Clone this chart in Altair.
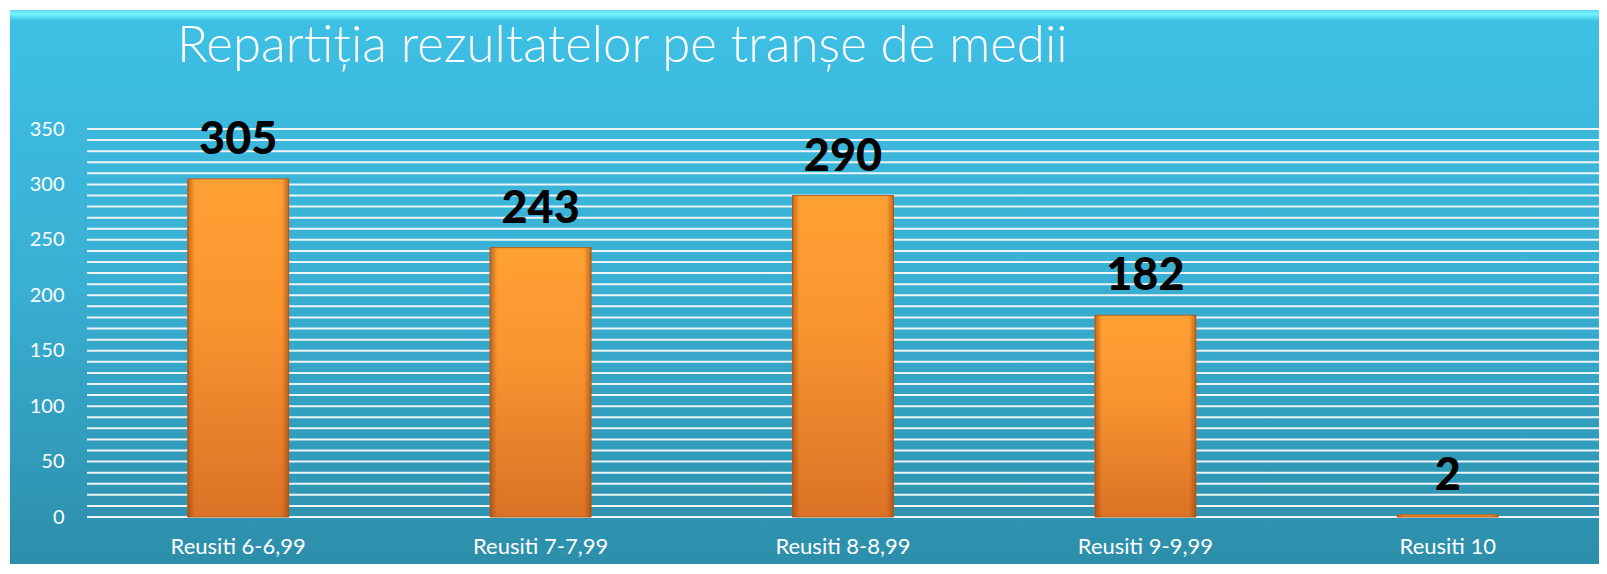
import altair as alt
import pandas as pd

categories = ["Reusiti 6-6,99", "Reusiti 7-7,99", "Reusiti 8-8,99", "Reusiti 9-9,99", "Reusiti 10"]
values = [305, 243, 290, 182, 2]
y_ticks = list(range(0, 360, 10))
title_text = "Repartiția rezultatelor pe tranșe de medii"

df = pd.DataFrame({"cat": categories, "value": values})
grid_df = pd.DataFrame({"v": y_ticks})
one = pd.DataFrame({"a": [0]})

W, H = 1512, 388
FONT = "Lato"

y_axis = alt.Axis(
    values=y_ticks,
    labelExpr="datum.value % 50 === 0 ? datum.label : ''",
    grid=False, domain=False, ticks=False, zindex=1,
    labelPadding=23, labelFontSize=20, labelColor="white", labelFont=FONT,
    title=None,
)
y_scale = alt.Scale(domain=[0, 350], nice=False, zero=True)

x_enc = alt.X(
    "cat:N", sort=categories,
    scale=alt.Scale(paddingInner=0.666, paddingOuter=0.333),
    axis=alt.Axis(domain=False, ticks=False, labelPadding=19, labelFontSize=22, zindex=1,
                  labelColor="white", labelFont=FONT, labelAngle=0, title=None),
)

bg_grad = alt.Gradient(
    gradient="linear", x1=0, x2=0, y1=0, y2=1,
    stops=[alt.GradientStop(color="#3EC0E5", offset=0),
           alt.GradientStop(color="#39AFD3", offset=0.5),
           alt.GradientStop(color="#2C8EAA", offset=1)],
)
bg = alt.Chart(one).mark_rect(fill=bg_grad, clip=False).encode(
    x=alt.value(-77), x2=alt.value(1512), y=alt.value(-119), y2=alt.value(435)
)
top_grad = alt.Gradient(
    gradient="linear", x1=0, x2=0, y1=0, y2=1,
    stops=[alt.GradientStop(color="#5CD6F0", offset=0),
           alt.GradientStop(color="#74F4FF", offset=0.35),
           alt.GradientStop(color="#3EC0E5", offset=1)],
)
top_strip = alt.Chart(one).mark_rect(fill=top_grad, clip=False).encode(
    x=alt.value(-77), x2=alt.value(1512), y=alt.value(-119), y2=alt.value(-108)
)

grid = alt.Chart(grid_df).mark_rule(color="#EEF3F5", strokeWidth=2).encode(
    y=alt.Y("v:Q", scale=y_scale, axis=y_axis)
)

bar_grad = alt.Gradient(
    gradient="linear", x1=0, x2=0, y1=0, y2=1,
    stops=[alt.GradientStop(color="#FFA033", offset=0),
           alt.GradientStop(color="#FA9530", offset=0.4),
           alt.GradientStop(color="#DB7226", offset=1)],
)
edge_grad = alt.Gradient(
    gradient="linear", x1=0, x2=1, y1=0, y2=0,
    stops=[alt.GradientStop(color="rgba(140,60,10,0.55)", offset=0),
           alt.GradientStop(color="rgba(140,60,10,0)", offset=0.07),
           alt.GradientStop(color="rgba(140,60,10,0)", offset=0.93),
           alt.GradientStop(color="rgba(140,60,10,0.55)", offset=1)],
)

bars = alt.Chart(df).mark_bar(fill=bar_grad, stroke="#B8621C", strokeWidth=1).encode(
    x=x_enc, y=alt.Y("value:Q", scale=y_scale, axis=y_axis)
)
bars_edge = alt.Chart(df).mark_bar(fill=edge_grad).encode(
    x=x_enc, y=alt.Y("value:Q", scale=y_scale, axis=y_axis)
)
labels = alt.Chart(df).mark_text(
    dy=-25, baseline="alphabetic", fontSize=45, fontWeight=900, font=FONT, color="black"
).encode(x=x_enc, y=alt.Y("value:Q", scale=y_scale, axis=y_axis), text="value:Q")

chart = alt.layer(bg, top_strip, grid, bars, bars_edge, labels).properties(
    width=W, height=H,
    autosize=alt.AutoSizeParams(type="none"),
    padding={"left": 79, "top": 121, "right": 0, "bottom": 47},
    background="white",
    title=alt.TitleParams(
        text=title_text, anchor="start", frame="group", dx=90, offset=-103,
        baseline="alphabetic", fontSize=51, fontWeight=300, font=FONT, color="white",
    ),
).configure_view(stroke=None)

chart.save("out.html", embed_options={"renderer": "svg", "actions": False})
